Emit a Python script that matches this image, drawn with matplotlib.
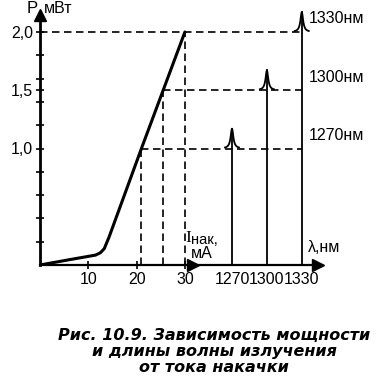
import numpy as np
import matplotlib
matplotlib.use('Agg')
import matplotlib.pyplot as plt

plt.rcParams['font.family'] = ['Liberation Sans', 'DejaVu Sans']

# ── данные ──────────────────────────────────
current_ma = [0, 6, 11.5, 12.5, 13.3, 14.3, 21, 25.5, 30]
power_mw   = [0, 0.045, 0.085, 0.105, 0.14, 0.24, 1.0, 1.5, 2.0]

mark_current = [21, 25.5, 30]           # точки, от которых идут пунктиры
mark_power   = [1.0, 1.5, 2.0]
wavelengths  = [1270, 1300, 1330]
peak_height  = 0.17
peak_gamma   = 1.4                      # полуширина пика, нм

x_ticks = [10, 20, 30]
y_major = [1.0, 1.5, 2.0]
y_major_labels = ['1,0', '1,5', '2,0']
y_minor = [0.2, 0.4, 0.6, 0.8, 1.2, 1.4, 1.6, 1.8]


def lam_to_x(lam):
    """положение длины волны на общей горизонтальной оси"""
    return 39.75 + (np.asarray(lam, dtype=float) - 1270) * (54.2 - 39.75) / 60


W, H = 377, 392
fig = plt.figure(figsize=(W / 100, H / 100), dpi=100)
px_x, px_y = 4.83, 116.5                # px на единицу
xmax, ymax = 62, 2.23
ax = fig.add_axes([40 / W, (H - 265) / H, xmax * px_x / W, ymax * px_y / H])
ax.set_xlim(0, xmax)
ax.set_ylim(0, ymax)
ax.patch.set_alpha(0)

for s in ['top', 'right']:
    ax.spines[s].set_visible(False)
ax.spines['left'].set_linewidth(2.0)
ax.spines['bottom'].set_linewidth(1.6)
ax.spines['left'].set_bounds(0, 2.12)
ax.spines['bottom'].set_bounds(0, 57.3)
# стрелки осей
ax.plot([0], [2.15], marker='^', ms=8, color='black', clip_on=False)
ax.plot([31.6], [0], marker='>', ms=8, color='black', clip_on=False)
ax.plot([57.5], [0], marker='>', ms=8, color='black', clip_on=False)

# ── ватт-амперная характеристика ──
ax.plot(current_ma, power_mw, color='black', lw=2.2, solid_joinstyle='round',
        solid_capstyle='round', zorder=4)

dash = dict(color='black', lw=1.2, dashes=(4.5, 2.7))
x1330 = float(lam_to_x(wavelengths[-1]))
for i, (c, p) in enumerate(zip(mark_current, mark_power)):
    ax.plot([c, c], [0, p], **dash)
    x_start = 0 if i == len(mark_current) - 1 else c
    ax.plot([x_start, x1330], [p, p], **dash)

# ── спектральные линии ──
for lam, p in zip(wavelengths, mark_power):
    xl = float(lam_to_x(lam))
    ax.plot([xl, xl], [0, p + peak_height], color='black', lw=1.3, zorder=3)
    d = np.linspace(-6, 6, 121)
    ax.plot(lam_to_x(lam + d), p + peak_height / (1 + (d / peak_gamma) ** 2),
            color='black', lw=1.3, zorder=3)
    ax.annotate(f'{lam}нм', xy=(x1330, p), xytext=(5, 4), textcoords='offset points',
                fontsize=11.5, ha='left', va='bottom')

# ── деления ──
ax.set_yticks(y_major)
ax.set_yticklabels(y_major_labels)
ax.set_yticks(y_minor, minor=True)
ax.set_xticks(x_ticks + list(lam_to_x(wavelengths)))
ax.set_xticklabels([str(v) for v in x_ticks] + [str(v) for v in wavelengths])
ax.tick_params(axis='both', which='both', direction='inout', length=6, width=1.2,
               labelsize=11.5, pad=2)
for t in ax.get_xticklines()[6:]:
    t.set_visible(False)

# ── подписи осей ──
ax.text(-2.8, 2.205, 'P', fontsize=12, ha='left', va='center')
ax.text(0.8, 2.205, 'мВт', fontsize=11.5, ha='left', va='center')
ax.text(30.0, 0.23, 'I', fontsize=12.5, family='Liberation Serif', ha='left', va='center')
ax.text(31.2, 0.215, 'нак,', fontsize=10.5, ha='left', va='center')
ax.text(31.3, 0.095, 'мА', fontsize=11.5, ha='left', va='center')
ax.text(55.5, 0.15, 'λ,нм', fontsize=11.5, ha='left', va='center')

# ── подпись рисунка ──
caption = ['Рис. 10.9. Зависимость мощности',
           'и длины волны излучения',
           'от тока накачки']
for k, line in enumerate(caption):
    fig.text(214 / W, 1 - (335 + 16.5 * k) / H, line, fontsize=11.5,
             fontweight='bold', fontstyle='italic', family='DejaVu Sans',
             ha='center', va='center')

fig.savefig('out.png', dpi=100)
